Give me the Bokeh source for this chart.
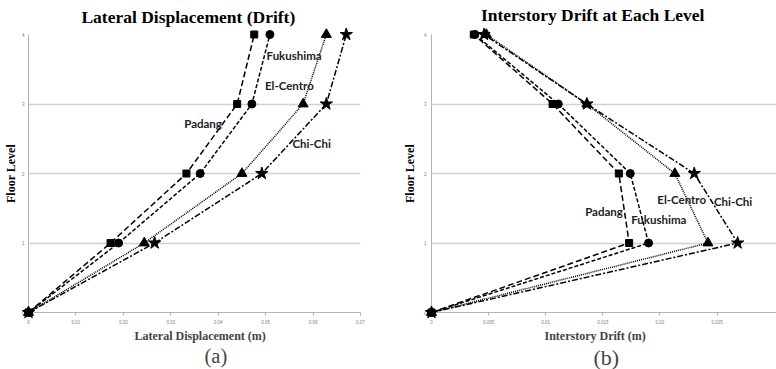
from bokeh.plotting import figure
from bokeh.layouts import row
from bokeh.models import Range1d, FixedTicker, Title
from bokeh.core.properties import value
from bokeh.embed import file_html
from bokeh.resources import INLINE

# ---------------- data ----------------
floor_levels = [0, 1, 2, 3, 4]
series_names = ["Padang", "Fukushima", "El-Centro", "Chi-Chi"]

# (a) lateral displacement (m)
disp_padang = [0, 0.0173, 0.0333, 0.0440, 0.0476]
disp_fukushima = [0, 0.0190, 0.0362, 0.0471, 0.0509]
disp_elcentro = [0, 0.0244, 0.0450, 0.0579, 0.0628]
disp_chichi = [0, 0.0266, 0.0492, 0.0628, 0.0670]

# (b) interstory drift (m)
drift_padang = [0, 0.0173, 0.0164, 0.0106, 0.0037]
drift_fukushima = [0, 0.0190, 0.0174, 0.0111, 0.0038]
drift_elcentro = [0, 0.0242, 0.0213, 0.0136, 0.0048]
drift_chichi = [0, 0.0268, 0.0230, 0.0136, 0.0046]

x_ticks_a = [0, 0.01, 0.02, 0.03, 0.04, 0.05, 0.06, 0.07]
x_tick_labels_a = ["0", "0.01", "0.02", "0.03", "0.04", "0.05", "0.06", "0.07"]
x_ticks_b = [0, 0.005, 0.01, 0.015, 0.02, 0.025]
x_tick_labels_b = ["0", "0.005", "0.01", "0.015", "0.02", "0.025"]
y_ticks = [0, 1, 2, 3, 4]
y_tick_labels = ["0", "1", "2", "3", "4"]

# ---------------- styles ----------------
styles = {
    "Padang": dict(marker="square", size=7, dash="6 3"),
    "Fukushima": dict(marker="circle", size=8, dash="4 2"),
    "El-Centro": dict(marker="triangle", size=10, dash="1 1"),
    "Chi-Chi": dict(marker="star", size=13, dash="6 2 2 2"),
}

SERIF = "Liberation Serif"


def make_panel(series, x_end, xt, xtl, title, title_pos, width, borders,
               ylabel_standoff, ytick_standoff, xlabel, xlabel_offset, sub, sub_offset,
               sub_size, name_pos):
    left, right, top, bottom = borders
    p = figure(width=width, height=369, output_backend="svg", toolbar_location=None,
               x_range=Range1d(0, x_end), y_range=Range1d(0, 4),
               min_border_left=left, min_border_right=right,
               min_border_top=top, min_border_bottom=bottom)
    p.background_fill_color = "white"
    p.border_fill_color = "white"
    p.outline_line_color = None

    # axes
    p.xaxis.ticker = FixedTicker(ticks=xt)
    p.xaxis.major_label_overrides = dict(zip(xt, xtl))
    p.yaxis.ticker = FixedTicker(ticks=y_ticks)
    p.yaxis.major_label_overrides = dict(zip(y_ticks, y_tick_labels))
    for ax in (p.xaxis, p.yaxis):
        ax.axis_line_color = "#b4b4b4"
        ax.axis_line_width = 1
        ax.major_tick_line_color = "#b4b4b4"
        ax.minor_tick_line_color = None
        ax.major_label_text_font = "Liberation Sans"
        ax.major_label_text_font_size = "4.5px"
        ax.major_label_text_color = "#808080"
    p.xaxis.major_tick_out = 3
    p.xaxis.major_tick_in = 0
    p.xaxis.major_label_standoff = 4
    p.yaxis.major_tick_out = 0
    p.yaxis.major_tick_in = 0
    p.yaxis.major_label_standoff = ytick_standoff

    p.yaxis.axis_label = "Floor Level"
    p.yaxis.axis_label_text_font = SERIF
    p.yaxis.axis_label_text_font_style = "bold"
    p.yaxis.axis_label_text_font_size = "12px"
    p.yaxis.axis_label_text_color = "black"
    p.yaxis.axis_label_standoff = ylabel_standoff

    p.xgrid.visible = False
    p.ygrid.ticker = FixedTicker(ticks=y_ticks)
    p.ygrid.grid_line_color = "#d0d0d0"
    p.ygrid.grid_line_width = 1.5

    # series
    for nm, xs in zip(series_names, series):
        st = styles[nm]
        p.line(xs, floor_levels, line_color="black", line_width=1.5,
               line_dash=st["dash"], level="overlay")
    for nm, xs in zip(series_names, series):
        st = styles[nm]
        p.scatter(xs, floor_levels, marker=st["marker"], size=st["size"],
                  fill_color="black", line_color="black", level="overlay")

    # series name labels
    p.text(x=[q[0] for q in name_pos], y=[q[1] for q in name_pos], text=series_names,
           text_font=value("Lato"), text_font_style="bold", text_font_size="11.5px",
           text_color="#222222", text_align="center", text_baseline="middle",
           level="overlay")

    # chart title, drawn just above the plotting frame
    p.text(x=[title_pos[0]], y=[title_pos[1]], text=[title],
           text_font=value(SERIF), text_font_style="bold", text_font_size="17.5px",
           text_color="black", text_align="center", text_baseline="middle",
           level="overlay")

    # x-axis title and sub caption (stacked below the axis)
    p.add_layout(Title(text=xlabel, align="left", offset=xlabel_offset, standoff=0,
                       text_font=SERIF, text_font_style="bold", text_font_size="12px"),
                 "below")
    p.add_layout(Title(text=sub, align="left", offset=sub_offset, standoff=0,
                       text_font=SERIF, text_font_style="normal", text_font_size=sub_size),
                 "below")
    return p


pa = make_panel(
    [disp_padang, disp_fukushima, disp_elcentro, disp_chichi],
    0.07, x_ticks_a, x_tick_labels_a,
    "Lateral Displacement (Drift)", (0.0337, 4.247), 390, (27, 30, 32, 55),
    1, 4,
    "Lateral Displacement (m)", 106, "(a)", 176, "20.5px",
    [(0.0368, 2.72), (0.0560, 3.70), (0.0550, 3.27), (0.0597, 2.43)],
)

pb = make_panel(
    [drift_padang, drift_fukushima, drift_elcentro, drift_chichi],
    0.0302, x_ticks_b, x_tick_labels_b,
    "Interstory Drift at Each Level", (0.01411, 4.275), 386, (41, 0, 34, 57),
    4, 5,
    "Interstory Drift (m)", 113, "(b)", 162, "22px",
    [(0.0151, 1.45), (0.0199, 1.34), (0.0219, 1.62), (0.0264, 1.60)],
)

layout = row(pa, pb)
open("out.html", "w").write(file_html(layout, INLINE))
